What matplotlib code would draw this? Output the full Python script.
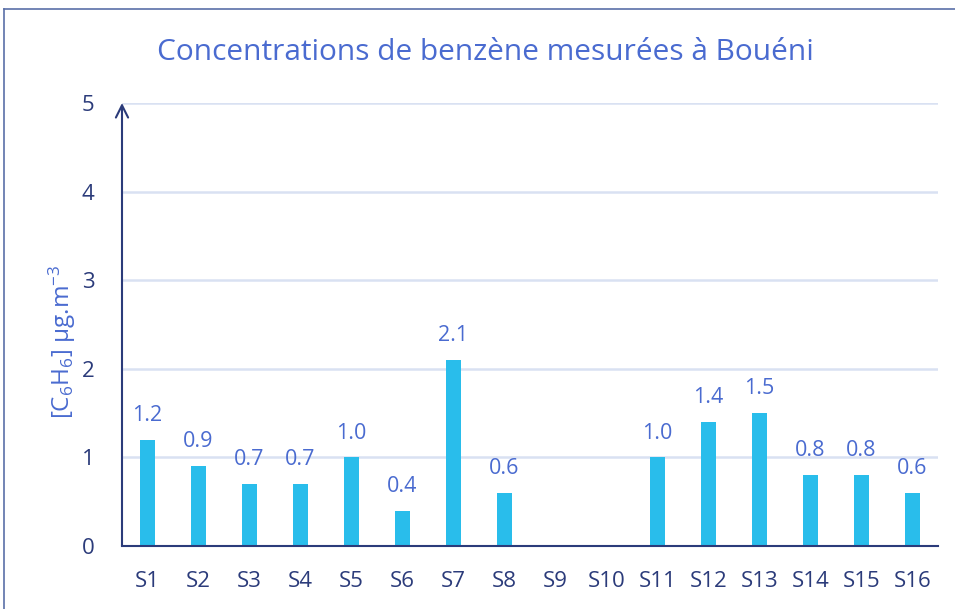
import numpy as np
import matplotlib.pyplot as plt
from matplotlib.lines import Line2D

plt.rcParams['font.family'] = ['Open Sans', 'DejaVu Sans']
plt.rcParams['mathtext.fontset'] = 'custom'
plt.rcParams['mathtext.rm'] = 'Open Sans'
plt.rcParams['mathtext.it'] = 'Open Sans'
plt.rcParams['mathtext.default'] = 'rm'

# données
sites = ['S%d' % i for i in range(1, 17)]
benzene = [1.2, 0.9, 0.7, 0.7, 1.0, 0.4, 2.1, 0.6, np.nan, np.nan,
           1.0, 1.4, 1.5, 0.8, 0.8, 0.6]
y_ticks = [0, 1, 2, 3, 4, 5]

bar_color = '#29BDEB'
title_color = '#4A6BD0'
navy = '#2B3B7A'
grid_color = '#D9E1F2'

fig = plt.figure(figsize=(9.55, 6.09), dpi=100)
ax = fig.add_axes([122 / 955, 1 - 546 / 609, (938 - 122) / 955, (546 - 103) / 609])

x = np.arange(len(sites))
ax.bar(x, np.nan_to_num(benzene), width=0.31, color=bar_color, zorder=3)

for xi, v in zip(x, benzene):
    if not np.isnan(v):
        ax.annotate('%.1f' % v, (xi, v), xytext=(0, 10), textcoords='offset points',
                    ha='center', va='bottom', fontsize=15.5, color=title_color)

ax.set_xlim(-0.5, len(sites) - 0.5)
ax.set_ylim(0, 5)
ax.set_yticks(y_ticks)
ax.set_xticks(x)
ax.set_xticklabels(sites)
ax.tick_params(axis='both', length=0, labelsize=16, labelcolor=navy)
ax.tick_params(axis='y', pad=20)
ax.tick_params(axis='x', pad=18)
ax.yaxis.grid(True, color=grid_color, linewidth=1.8, zorder=0)
ax.set_axisbelow(True)

for s in ['top', 'right']:
    ax.spines[s].set_visible(False)
ax.spines['left'].set_visible(False)
ax.spines['bottom'].set_color(navy)
ax.spines['bottom'].set_linewidth(1.5)
ax.spines['bottom'].set_zorder(4)

# axe vertical avec flèche
ax.annotate('', xy=(-0.5, 5), xytext=(-0.5, 0), xycoords='data',
            arrowprops=dict(arrowstyle='->', color=navy, lw=1.5,
                            mutation_scale=22, shrinkA=0, shrinkB=0),
            annotation_clip=False, zorder=5)

ax.set_ylabel('[C$_6$H$_6$] µg.m$^{-3}$', fontsize=17.5, color=title_color)
ax.yaxis.set_label_coords(-0.054, 0.46)

fig.text(0.508, 1 - 52 / 609, 'Concentrations de benzène mesurées à Bouéni',
         ha='center', va='center', fontsize=21.5, color=title_color)

# cadre
fig.add_artist(Line2D([4 / 955, 4 / 955], [0, 1 - 9 / 609], color='#5A6FA8', lw=1.2))
fig.add_artist(Line2D([4 / 955, 1], [1 - 9 / 609, 1 - 9 / 609], color='#5A6FA8', lw=1.2))

fig.savefig('out.png', dpi=100)
